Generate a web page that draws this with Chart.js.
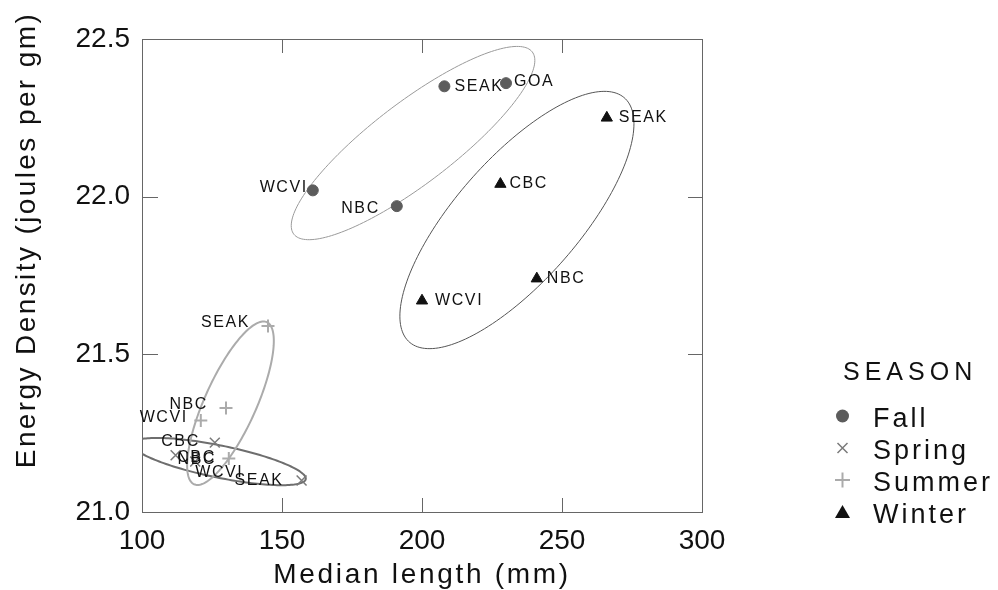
<!DOCTYPE html>
<html>
<head>
<meta charset="utf-8">
<title>Energy density by season</title>
<script src="https://cdn.jsdelivr.net/npm/chart.js@4.4.1/dist/chart.umd.min.js"></script>
<style>
html,body{margin:0;padding:0;background:#fff}
#wrap{width:998px;height:590px}
</style>
</head>
<body>
<div id="wrap"><canvas id="chart" width="998" height="590"></canvas></div>
<script>

// axis ticks
const xTicks = [100,150,200,250,300]
const yTicks = [21.0,21.5,22.0,22.5]

const seasons = ["Fall","Spring","Summer","Winter"]

// median length (mm) and energy density (joules per gm) by region
const fallRegions = ["SEAK","GOA","WCVI","NBC"]
const fallLength = [208,230,161,191]
const fallEnergy = [22.35,22.36,22.02,21.97]

const springRegions = ["CBC","NBC","WCVI","SEAK"]
const springLength = [126,112,119,157]
const springEnergy = [21.22,21.18,21.16,21.10]

const summerRegions = ["SEAK","NBC","WCVI","CBC"]
const summerLength = [145,130,121,131]
const summerEnergy = [21.59,21.33,21.29,21.17]

const winterRegions = ["SEAK","CBC","NBC","WCVI"]
const winterLength = [266,228,241,200]
const winterEnergy = [22.25,22.04,21.74,21.67]

// ellipse per season: centre and two conjugate semi-axes, in data units
const fallEllipse = { center:[196.8,22.170], u:[43.5,0.262], v:[0,0.159] }
const springEllipse = { center:[127.6,21.160], u:[30.9,-0.054], v:[0,0.052] }
const summerEllipse = { center:[131.6,21.345], u:[13.0,0.257], v:[8.4,-0.034] }
const winterEllipse = { center:[233.9,21.926], u:[41.8,0.305], v:[0,0.271] }

const FONT = "'Liberation Sans', Arial, sans-serif"

const looks = {
Fall:   { pointStyle:"circle",   radius:5.5, color:"#5c5c5c", line:1,   ring:"#9a9a9a", ringWidth:1 },
Spring: { pointStyle:"crossRot", radius:7,   color:"#7a7a7a", line:1.5, ring:"#6e6e6e", ringWidth:2 },
Summer: { pointStyle:"cross",    radius:6.5, color:"#ababab", line:2,   ring:"#ababab", ringWidth:2 },
Winter: { pointStyle:"triangle", radius:6.5, color:"#111111", line:1,   ring:"#555555", ringWidth:1 }
}

// nudges for the region names, px from the marker (negative dx = text to the left)
const labelNudge = {
Fall:   [[10,0],[8,-2],[-5,-3],[-17,2]],
Spring: [[-15,-1],[2,4],[0,11],[-18,0]],
Summer: [[-18,-3],[-18,-3],[-13,-3],[-13,-1]],
Winter: [[12,0],[9,0],[10,0],[13,0]]
}

function makeSet(name, regions, lengths, energies, ellipse){
const st = looks[name]
return {
label:name,
regions:regions,
ellipse:ellipse,
data:lengths.map((x,i)=>({x:x, y:energies[i]})),
pointStyle:st.pointStyle,
pointRadius:st.radius,
pointHoverRadius:st.radius,
backgroundColor:st.color,
borderColor:st.color,
borderWidth:st.line,
showLine:false
}
}

const datasets = [
makeSet("Fall", fallRegions, fallLength, fallEnergy, fallEllipse),
makeSet("Spring", springRegions, springLength, springEnergy, springEllipse),
makeSet("Summer", summerRegions, summerLength, summerEnergy, summerEllipse),
makeSet("Winter", winterRegions, winterLength, winterEnergy, winterEllipse)
]

// box round the plot with inward ticks on all four sides
const framePlugin = {
id:"frame",
beforeDatasetsDraw(chart){
const {ctx, chartArea:a, scales} = chart
ctx.save()
ctx.strokeStyle = "#666"
ctx.lineWidth = 1
ctx.strokeRect(a.left+0.5, a.top+0.5, a.right-a.left, a.bottom-a.top)
ctx.beginPath()
xTicks.slice(1,-1).forEach(v=>{
const px = Math.round(scales.x.getPixelForValue(v))+0.5
ctx.moveTo(px, a.bottom); ctx.lineTo(px, a.bottom-14)
ctx.moveTo(px, a.top); ctx.lineTo(px, a.top+14)
})
yTicks.slice(1,-1).forEach(v=>{
const py = Math.round(scales.y.getPixelForValue(v))+0.5
ctx.moveTo(a.left, py); ctx.lineTo(a.left+16, py)
ctx.moveTo(a.right, py); ctx.lineTo(a.right-14, py)
})
ctx.stroke()
ctx.restore()
}
}

// season ellipses, traced through the chart scales
const ellipsePlugin = {
id:"ellipses",
beforeDatasetsDraw(chart){
const {ctx, chartArea:a, scales} = chart
ctx.save()
ctx.beginPath()
ctx.rect(a.left, a.top, a.right-a.left, a.bottom-a.top)
ctx.clip()
chart.data.datasets.forEach(ds=>{
const e = ds.ellipse
const st = looks[ds.label]
ctx.beginPath()
for(let k=0;k<=180;k++){
const t = k/180*Math.PI*2
const x = e.center[0] + e.u[0]*Math.cos(t) + e.v[0]*Math.sin(t)
const y = e.center[1] + e.u[1]*Math.cos(t) + e.v[1]*Math.sin(t)
const px = scales.x.getPixelForValue(x)
const py = scales.y.getPixelForValue(y)
if(k===0) ctx.moveTo(px,py)
else ctx.lineTo(px,py)
}
ctx.closePath()
ctx.strokeStyle = st.ring
ctx.lineWidth = st.ringWidth
ctx.stroke()
})
ctx.restore()
}
}

// region names beside each marker
const namePlugin = {
id:"names",
afterDatasetsDraw(chart){
const ctx = chart.ctx
ctx.save()
ctx.font = "16px " + FONT
ctx.letterSpacing = "1.6px"
ctx.fillStyle = "#111"
ctx.textBaseline = "middle"
chart.data.datasets.forEach((ds,i)=>{
const meta = chart.getDatasetMeta(i)
meta.data.forEach((pt,j)=>{
const [dx,dy] = labelNudge[ds.label][j]
ctx.textAlign = dx < 0 ? "right" : "left"
ctx.fillText(ds.regions[j], pt.x+dx, pt.y+dy)
})
})
ctx.restore()
}
}

function drawMarker(ctx, name, x, y){
const st = looks[name]
ctx.fillStyle = st.color
ctx.strokeStyle = st.color
ctx.beginPath()
if(name==="Fall"){
ctx.arc(x, y, 6.5, 0, Math.PI*2)
ctx.fill()
}else if(name==="Spring"){
ctx.lineWidth = 1.5
ctx.moveTo(x-5, y-5); ctx.lineTo(x+5, y+5)
ctx.moveTo(x-5, y+5); ctx.lineTo(x+5, y-5)
ctx.stroke()
}else if(name==="Summer"){
ctx.lineWidth = 2
ctx.moveTo(x-7.5, y); ctx.lineTo(x+7.5, y)
ctx.moveTo(x, y-7.5); ctx.lineTo(x, y+7.5)
ctx.stroke()
}else{
ctx.moveTo(x, y-7)
ctx.lineTo(x+7.5, y+6)
ctx.lineTo(x-7.5, y+6)
ctx.closePath()
ctx.fill()
}
}

// axis titles and the season key
const textPlugin = {
id:"texts",
afterDraw(chart){
const ctx = chart.ctx
ctx.save()
ctx.fillStyle = "#111"

ctx.font = "28px " + FONT
ctx.letterSpacing = "2.7px"
ctx.textAlign = "center"
ctx.textBaseline = "alphabetic"
ctx.fillText("Median length (mm)", 422, 583)

ctx.save()
ctx.translate(35, 240)
ctx.rotate(-Math.PI/2)
ctx.letterSpacing = "2.4px"
ctx.fillText("Energy Density (joules per gm)", 0, 0)
ctx.restore()

ctx.textAlign = "left"
ctx.font = "25px " + FONT
ctx.letterSpacing = "5px"
ctx.fillText("SEASON", 843, 380)

ctx.font = "27px " + FONT
ctx.letterSpacing = "3px"
seasons.forEach((name,i)=>{
const base = 427 + i*32
ctx.fillStyle = "#111"
ctx.fillText(name, 873, base)
drawMarker(ctx, name, 842.5, base-11)
})
ctx.restore()
}
}

new Chart(document.getElementById("chart"),{
type:"scatter",
data:{ datasets:datasets },
options:{
responsive:false,
animation:false,
devicePixelRatio:1,
layout:{ padding:{ top:39, right:296, left:0, bottom:0 } },
plugins:{
legend:{ display:false },
tooltip:{ enabled:false }
},
scales:{
x:{
type:"linear",
min:100,
max:300,
afterBuildTicks:s=>{ s.ticks = xTicks.map(v=>({value:v})) },
afterFit:s=>{ s.height = 78 },
grid:{ display:false, drawTicks:false },
border:{ display:false },
ticks:{ color:"#111", padding:12, font:{ family:FONT, size:28 } }
},
y:{
type:"linear",
min:21,
max:22.5,
afterBuildTicks:s=>{ s.ticks = yTicks.map(v=>({value:v})) },
afterFit:s=>{ s.width = 142 },
grid:{ display:false, drawTicks:false },
border:{ display:false },
ticks:{ color:"#111", padding:12, font:{ family:FONT, size:28 }, callback:v=>Number(v).toFixed(1) }
}
}
},
plugins:[framePlugin, ellipsePlugin, namePlugin, textPlugin]
})

</script>
</body>
</html>
